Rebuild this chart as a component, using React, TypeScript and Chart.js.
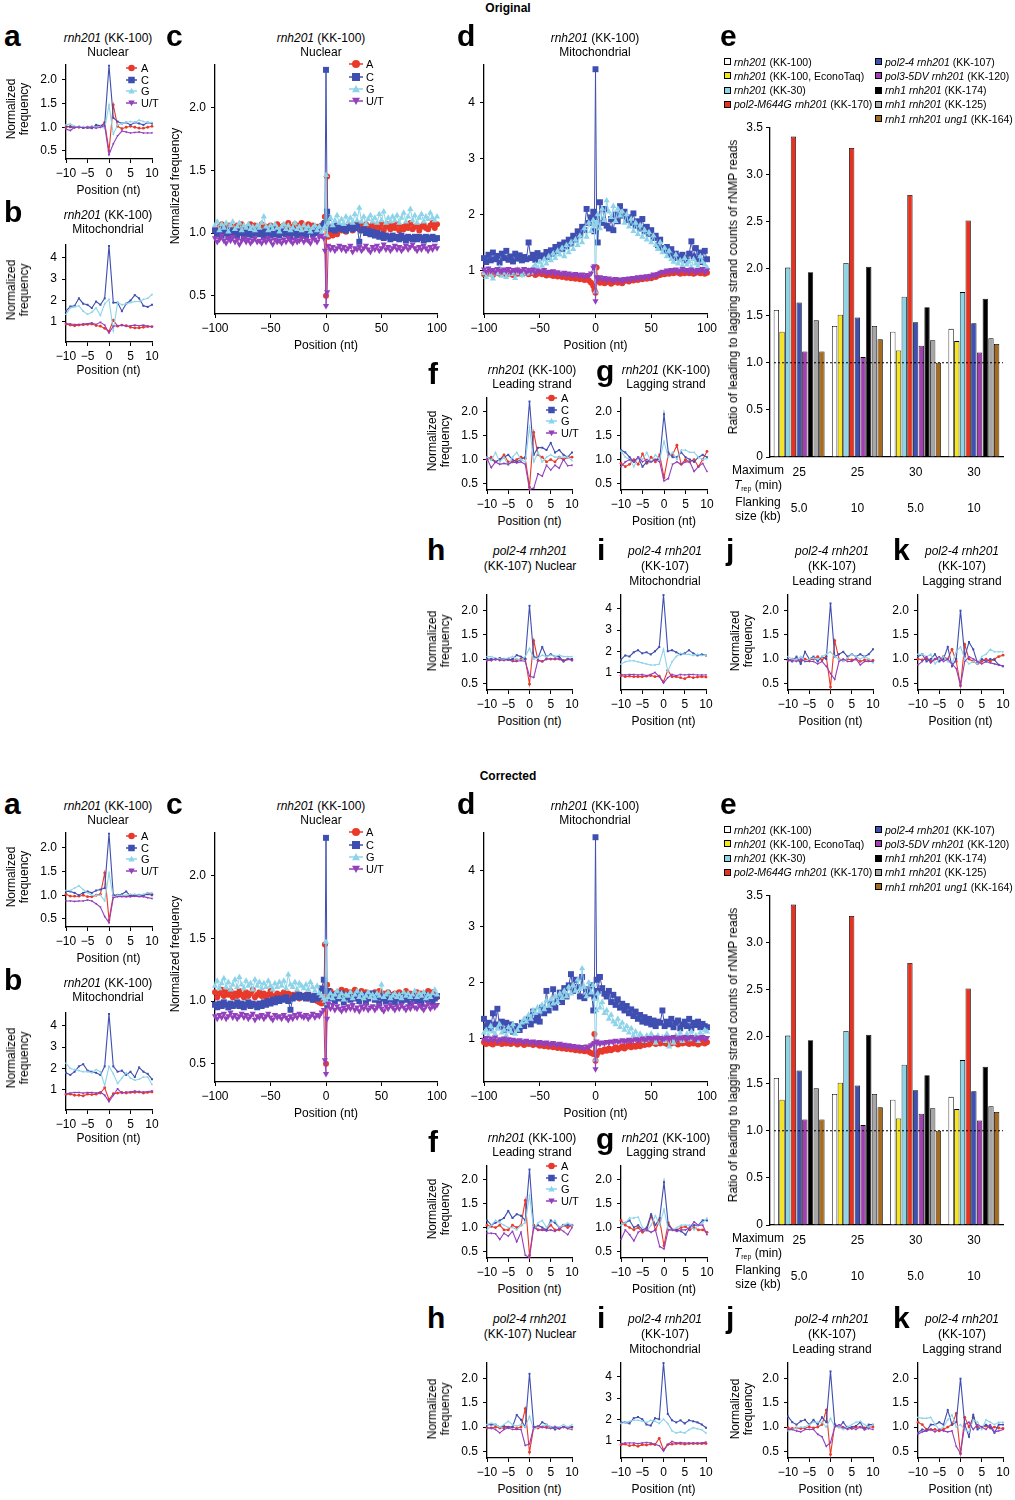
import React, { useEffect, useRef } from "react";
import { Chart, registerables } from "chart.js";

Chart.register(...registerables);

const FONT = '"Liberation Sans", Arial, Helvetica, sans-serif';

// ---------------- positions & ticks ----------------
const POS_NARROW = [-10, -9, -8, -7, -6, -5, -4, -3, -2, -1, 0, 1, 2, 3, 4, 5, 6, 7, 8, 9, 10];
const POS_WIDE = [
  -100, -98, -96, -94, -92, -90, -88, -86, -84, -82,
  -80, -78, -76, -74, -72, -70, -68, -66, -64, -62,
  -60, -58, -56, -54, -52, -50, -48, -46, -44, -42,
  -40, -38, -36, -34, -32, -30, -28, -26, -24, -22,
  -20, -18, -16, -14, -12, -10, -8, -6, -4, -2,
  -1, 0, 1,
  2, 4, 6, 8, 10, 12, 14, 16, 18, 20,
  22, 24, 26, 28, 30, 32, 34, 36, 38, 40,
  42, 44, 46, 48, 50, 52, 54, 56, 58, 60,
  62, 64, 66, 68, 70, 72, 74, 76, 78, 80,
  82, 84, 86, 88, 90, 92, 94, 96, 98, 100,
];
const X_TICKS_NARROW = [-10, -5, 0, 5, 10];
const X_TICKS_WIDE = [-100, -50, 0, 50, 100];
const Y_TICKS_NUC = [0.5, 1, 1.5, 2];
const Y_LABELS_NUC = ["0.5", "1.0", "1.5", "2.0"];
const Y_TICKS_MITO = [1, 2, 3, 4];
const Y_LABELS_MITO = ["1", "2", "3", "4"];
const Y_TICKS_RATIO = [0, 0.5, 1, 1.5, 2, 2.5, 3, 3.5];
const Y_LABELS_RATIO = ["0", "0.5", "1.0", "1.5", "2.0", "2.5", "3.0", "3.5"];
const RATIO_REFERENCE = 1.0;

// ---------------- ORIGINAL ----------------
const O_a_A = [1.00, 1.02, 1.00, 1.00, 0.99, 1.00, 1.00, 1.01, 1.02, 1.10, 0.50, 1.47, 1.02, 0.97, 1.00, 1.02, 1.00, 0.98, 0.98, 1.00, 1.02];
const O_a_C = [1.03, 1.00, 1.00, 1.01, 0.99, 0.99, 0.98, 1.05, 1.03, 1.06, 2.30, 1.20, 1.12, 1.08, 1.10, 1.05, 1.10, 1.08, 1.05, 1.10, 1.08];
const O_a_G = [1.05, 1.07, 1.02, 1.00, 1.01, 1.00, 1.03, 1.00, 1.02, 0.98, 1.47, 0.85, 1.05, 1.08, 1.10, 1.12, 1.10, 1.15, 1.12, 1.10, 1.10];
const O_a_T = [0.96, 0.93, 1.00, 1.00, 0.99, 1.00, 1.00, 0.98, 1.00, 1.03, 0.42, 0.65, 0.82, 0.92, 0.90, 0.88, 0.89, 0.90, 0.88, 0.88, 0.88];

const O_b_A = [0.90, 0.85, 0.82, 0.85, 0.87, 0.88, 0.90, 0.83, 0.80, 0.70, 0.55, 1.08, 0.80, 0.85, 0.82, 0.75, 0.72, 0.72, 0.75, 0.78, 0.78];
const O_b_C = [1.50, 1.72, 1.75, 2.10, 1.85, 1.80, 1.65, 1.95, 1.80, 2.10, 4.55, 1.90, 1.90, 1.50, 1.85, 2.00, 2.25, 2.10, 1.75, 1.70, 1.80];
const O_b_G = [1.35, 1.65, 1.70, 1.75, 1.50, 1.35, 1.45, 1.65, 1.30, 1.85, 2.05, 0.60, 1.90, 1.80, 1.85, 1.90, 1.95, 1.95, 2.05, 2.10, 2.28];
const O_b_T = [0.92, 0.90, 0.88, 0.88, 0.90, 0.92, 0.95, 0.88, 0.98, 0.85, 0.48, 0.80, 0.82, 0.85, 0.80, 0.82, 0.85, 0.82, 0.85, 0.80, 0.78];

const O_c_A = [
  1.03, 0.99, 1.05, 1.07, 1.02, 1.04, 1.06, 1.01, 1.05, 1.03,
  1.06, 1.02, 1.07, 1.04, 1.00, 1.05, 1.07, 1.03, 1.06, 1.02,
  1.04, 1.07, 1.01, 1.05, 1.03, 1.06, 1.04, 1.02, 1.07, 1.05,
  1.03, 1.06, 1.04, 1.08, 1.02, 1.05, 1.07, 1.04, 1.06, 1.08,
  1.05, 1.03, 1.07, 1.04, 1.06, 1.02, 1.05, 1.03, 1.06, 1.04,
  1.13, 0.50, 1.45,
  0.97, 1.00, 0.98, 1.01, 0.99, 1.03, 1.02, 1.05, 1.01, 1.04,
  1.06, 1.02, 1.05, 1.08, 1.03, 1.06, 1.04, 1.07, 1.02, 1.05,
  1.07, 1.03, 1.06, 1.04, 1.08, 1.02, 1.05, 1.07, 1.03, 1.06,
  1.04, 1.07, 1.02, 1.05, 1.03, 1.06, 1.04, 1.08, 1.03, 1.05,
  1.06, 1.02, 1.05, 1.07, 1.04, 1.03, 1.06, 1.08, 1.04, 1.07,
];
const O_c_C = [
  1.02, 0.99, 1.01, 0.98, 1.03, 1.00, 0.97, 1.02, 0.99, 1.01,
  0.98, 1.02, 1.00, 0.97, 1.01, 0.99, 1.03, 0.98, 1.00, 1.02,
  0.99, 1.01, 0.97, 1.02, 1.00, 0.98, 1.03, 0.99, 1.01, 0.98,
  1.00, 1.02, 0.99, 1.01, 0.97, 1.00, 1.02, 0.98, 1.01, 0.99,
  1.00, 0.98, 1.02, 1.01, 0.99, 1.03, 1.00, 1.02, 1.05, 1.07,
  1.08, 2.30, 1.17,
  1.12, 1.03, 1.05, 1.02, 1.06, 1.04, 1.03, 1.05, 1.02, 1.04,
  1.05, 1.03, 1.04, 1.06, 0.93, 1.02, 1.03, 1.00, 1.02, 0.99,
  1.01, 0.98, 1.00, 0.97, 0.99, 0.96, 0.98, 0.97, 0.95, 0.98,
  0.96, 0.97, 0.95, 0.98, 0.96, 0.94, 0.97, 0.96, 0.95, 0.97,
  0.95, 0.97, 0.96, 0.94, 0.97, 0.95, 0.96, 0.97, 0.95, 0.96,
];
const O_c_G = [
  1.06, 1.09, 1.02, 1.07, 1.04, 1.08, 1.01, 1.06, 1.09, 1.03,
  1.05, 1.08, 1.02, 1.06, 1.04, 1.07, 1.03, 1.05, 1.02, 1.06,
  1.04, 1.08, 1.13, 1.05, 1.02, 1.06, 1.03, 1.07, 1.04, 1.01,
  1.05, 1.07, 1.03, 1.06, 1.02, 1.04, 1.08, 1.03, 1.05, 1.02,
  1.06, 1.03, 1.05, 1.01, 1.04, 1.06, 1.02, 1.05, 1.00, 1.03,
  1.05, 1.46, 0.98,
  1.08, 1.12, 1.06, 1.10, 1.14, 1.08, 1.11, 1.07, 1.13, 1.09,
  1.12, 1.08, 1.15, 1.10, 1.20, 1.09, 1.13, 1.07, 1.11, 1.14,
  1.09, 1.12, 1.08, 1.15, 1.10, 1.17, 1.08, 1.12, 1.09, 1.13,
  1.10, 1.14, 1.08, 1.12, 1.16, 1.09, 1.13, 1.19, 1.10, 1.14,
  1.08, 1.12, 1.15, 1.09, 1.13, 1.11, 1.16, 1.12, 1.10, 1.13,
];
const O_c_T = [
  0.96, 0.93, 0.95, 0.98, 0.94, 0.92, 0.96, 0.94, 0.97, 0.93,
  0.95, 0.91, 0.94, 0.96, 0.93, 0.95, 0.92, 0.94, 0.96, 0.93,
  0.94, 0.92, 0.95, 0.93, 0.96, 0.94, 0.91, 0.95, 0.93, 0.94,
  0.92, 0.95, 0.93, 0.96, 0.94, 0.92, 0.95, 0.93, 0.94, 0.96,
  0.93, 0.95, 0.94, 0.92, 0.96, 0.95, 0.93, 0.97, 0.98, 0.96,
  0.86, 0.42, 0.53,
  0.90, 0.87, 0.89, 0.86, 0.88, 0.90, 0.87, 0.89, 0.86, 0.88,
  0.90, 0.85, 0.88, 0.87, 0.89, 0.86, 0.88, 0.90, 0.87, 0.85,
  0.89, 0.87, 0.90, 0.86, 0.88, 0.91, 0.87, 0.89, 0.86, 0.88,
  0.90, 0.87, 0.89, 0.86, 0.88, 0.90, 0.87, 0.89, 0.91, 0.88,
  0.86, 0.89, 0.87, 0.90, 0.88, 0.86, 0.89, 0.87, 0.90, 0.88,
];

const O_d_A = [
  0.93, 0.96, 0.94, 0.97, 0.92, 0.95, 0.98, 0.94, 0.96, 0.93,
  0.97, 0.94, 0.95, 0.92, 0.96, 0.94, 0.97, 0.93, 0.95, 0.96,
  0.93, 0.95, 0.97, 0.92, 0.94, 0.96, 0.93, 0.95, 0.91, 0.94,
  0.92, 0.90, 0.93, 0.89, 0.91, 0.88, 0.90, 0.87, 0.89, 0.86,
  0.88, 0.85, 0.87, 0.84, 0.86, 0.83, 0.85, 0.82, 0.78, 0.72,
  0.65, 0.60, 1.05,
  0.82, 0.78, 0.80, 0.77, 0.79, 0.81, 0.76, 0.79, 0.82, 0.78,
  0.80, 0.77, 0.81, 0.83, 0.80, 0.84, 0.82, 0.85, 0.83, 0.86,
  0.84, 0.87, 0.85, 0.88, 0.86, 0.90, 0.88, 0.91, 0.92, 0.95,
  0.93, 0.96, 0.94, 0.97, 0.95, 0.98, 0.96, 0.94, 0.97, 0.95,
  0.98, 0.95, 0.97, 0.94, 0.96, 0.99, 0.95, 0.97, 0.94, 0.96,
];
const O_d_C = [
  1.22, 1.15, 1.28, 1.18, 1.32, 1.20, 1.26, 1.14, 1.30, 1.22,
  1.35, 1.19, 1.25, 1.16, 1.30, 1.21, 1.27, 1.18, 1.24, 1.20,
  1.50, 1.22, 1.28, 1.19, 1.31, 1.25, 1.27, 1.22, 1.33, 1.24,
  1.36, 1.30, 1.42, 1.35, 1.46, 1.38, 1.50, 1.43, 1.55, 1.48,
  1.62, 1.55, 1.70, 1.63, 1.78, 1.72, 2.10, 1.85, 1.95, 2.05,
  1.70, 4.60, 1.95,
  1.50, 2.22, 1.85, 2.10, 1.80, 1.75, 1.92, 1.72, 2.00, 1.88,
  2.15, 1.98, 2.05, 1.90, 1.95, 1.85, 2.02, 1.80, 1.88, 1.75,
  1.92, 1.70, 1.78, 1.65, 1.72, 1.58, 1.62, 1.45, 1.55, 1.40,
  1.35, 1.42, 1.28, 1.38, 1.22, 1.30, 1.25, 1.20, 1.28, 1.22,
  1.18, 1.30, 1.52, 1.25, 1.40, 1.20, 1.32, 1.15, 1.35, 1.20,
];
const O_d_G = [
  0.95, 0.88, 1.02, 0.92, 0.85, 0.98, 0.94, 1.05, 0.90, 0.96,
  0.88, 1.00, 0.93, 0.97, 0.86, 1.02, 0.95, 0.91, 0.98, 0.94,
  1.00, 0.96, 1.05, 1.10, 1.02, 1.15, 1.08, 1.20, 1.12, 1.25,
  1.18, 1.30, 1.22, 1.35, 1.28, 1.40, 1.25, 1.45, 1.32, 1.50,
  1.38, 1.55, 1.45, 1.62, 1.50, 1.75, 1.60, 1.85, 1.70, 1.90,
  1.80, 0.62, 1.85,
  2.00, 1.75, 2.10, 1.90, 2.25, 2.05, 1.95, 2.15, 1.88, 2.10,
  1.98, 2.05, 1.85, 2.00, 1.78, 1.92, 1.70, 1.85, 1.65, 1.80,
  1.60, 1.72, 1.55, 1.68, 1.50, 1.62, 1.45, 1.38, 1.50, 1.32,
  1.40, 1.25, 1.35, 1.20, 1.15, 1.28, 1.12, 1.18, 1.08, 1.22,
  1.10, 1.16, 1.05, 1.20, 1.12, 1.08, 1.25, 1.15, 1.10, 1.05,
];
const O_d_T = [
  1.02, 0.98, 1.04, 0.99, 1.01, 0.97, 1.03, 1.00, 0.98, 1.02,
  0.99, 1.03, 0.97, 1.01, 0.99, 1.02, 0.98, 1.00, 1.03, 0.97,
  1.01, 0.98, 1.02, 0.96, 1.00, 0.99, 0.97, 1.01, 0.95, 0.98,
  0.96, 0.99, 0.94, 0.97, 0.95, 0.93, 0.96, 0.92, 0.95, 0.93,
  0.91, 0.94, 0.92, 0.90, 0.93, 0.89, 0.92, 0.90, 0.95, 1.05,
  1.08, 0.45, 0.88,
  0.85, 0.88, 0.84, 0.87, 0.83, 0.86, 0.84, 0.82, 0.85, 0.83,
  0.84, 0.81, 0.85, 0.83, 0.86, 0.84, 0.87, 0.85, 0.88, 0.86,
  0.89, 0.87, 0.90, 0.88, 0.91, 0.93, 0.90, 0.94, 0.96, 0.98,
  0.97, 1.00, 0.98, 1.01, 0.99, 1.02, 0.98, 1.00, 1.03, 0.99,
  1.01, 0.98, 1.02, 1.00, 0.97, 1.01, 0.99, 1.03, 0.98, 1.00,
];

const O_f_A = [1.00, 1.05, 0.95, 1.00, 1.10, 0.95, 0.95, 1.00, 1.05, 1.02, 0.42, 1.57, 1.10, 1.05, 0.95, 1.00, 0.95, 1.05, 1.00, 1.05, 1.05];
const O_f_C = [1.05, 1.00, 0.95, 1.00, 1.05, 1.10, 1.00, 0.95, 1.00, 1.05, 2.22, 1.10, 1.25, 1.25, 1.20, 1.35, 1.15, 1.20, 1.10, 1.05, 1.15];
const O_f_G = [1.05, 0.98, 1.15, 0.95, 1.05, 0.88, 1.05, 1.15, 1.00, 0.95, 1.68, 0.95, 1.15, 0.95, 1.05, 1.10, 1.05, 1.05, 1.05, 1.05, 0.98];
const O_f_T = [1.02, 0.83, 0.95, 0.90, 0.92, 0.90, 0.95, 0.93, 0.95, 0.90, 0.37, 0.40, 0.70, 0.65, 0.88, 0.78, 0.88, 0.82, 1.00, 0.87, 0.88];

const O_g_A = [0.92, 0.85, 0.90, 1.00, 0.90, 1.12, 0.92, 1.05, 0.95, 1.10, 0.62, 1.10, 1.10, 1.30, 0.90, 1.00, 0.95, 1.00, 0.85, 1.00, 1.17];
const O_g_C = [1.20, 1.15, 1.05, 0.95, 1.05, 0.85, 0.95, 0.95, 1.00, 1.00, 1.95, 1.15, 1.05, 1.05, 1.15, 1.05, 1.00, 0.95, 1.05, 1.10, 1.05];
const O_g_G = [1.18, 1.05, 1.00, 0.85, 1.05, 1.00, 1.15, 0.95, 1.10, 1.00, 1.38, 1.05, 1.15, 1.00, 1.20, 1.20, 1.15, 1.15, 1.05, 1.00, 1.02];
const O_g_T = [0.85, 0.95, 1.00, 0.95, 1.05, 0.95, 1.00, 0.95, 1.00, 0.95, 0.55, 0.60, 0.90, 0.95, 0.90, 0.95, 0.95, 0.75, 0.85, 0.92, 0.75];

const O_h_A = [0.98, 0.98, 1.00, 0.98, 1.00, 1.00, 0.98, 0.98, 1.00, 1.00, 0.48, 1.38, 0.97, 0.95, 1.00, 1.00, 1.00, 1.00, 0.97, 1.00, 0.98];
const O_h_C = [1.00, 1.00, 0.99, 1.02, 1.00, 0.98, 1.00, 1.08, 1.05, 1.00, 2.10, 1.05, 1.02, 1.25, 1.05, 1.10, 1.05, 1.05, 0.95, 1.00, 1.00];
const O_h_G = [1.05, 1.05, 1.02, 1.00, 1.00, 1.02, 1.05, 1.00, 0.98, 1.05, 1.22, 1.00, 1.02, 1.08, 1.05, 1.08, 1.05, 1.08, 1.05, 1.05, 1.05];
const O_h_T = [0.97, 0.97, 1.00, 0.98, 0.97, 0.99, 0.95, 0.95, 0.97, 0.95, 0.65, 0.62, 0.98, 0.95, 1.00, 1.00, 1.00, 1.00, 0.95, 1.00, 0.97];

const O_i_A = [0.85, 0.80, 0.82, 0.80, 0.80, 0.80, 0.82, 0.85, 0.80, 0.82, 0.55, 1.10, 0.80, 0.80, 0.75, 0.70, 0.80, 0.75, 0.78, 0.80, 0.78];
const O_i_C = [1.60, 1.80, 1.75, 1.95, 2.05, 1.90, 1.95, 1.85, 2.00, 2.20, 4.65, 2.00, 2.05, 1.95, 1.85, 1.90, 2.05, 1.90, 1.80, 1.85, 1.80];
const O_i_G = [1.40, 1.50, 1.55, 1.55, 1.50, 1.45, 1.40, 1.35, 1.35, 1.40, 2.10, 1.05, 1.50, 1.75, 1.90, 1.85, 1.85, 1.80, 1.85, 1.80, 1.80];
const O_i_T = [0.90, 0.88, 0.90, 0.90, 0.88, 0.90, 0.85, 0.90, 1.00, 0.80, 0.50, 0.75, 0.90, 0.85, 0.90, 0.88, 0.90, 0.90, 0.88, 0.88, 0.88];

const O_j_A = [0.97, 1.00, 0.98, 0.95, 1.00, 0.98, 1.00, 1.05, 0.98, 1.05, 0.42, 1.38, 1.00, 0.97, 1.00, 0.98, 1.00, 0.95, 0.98, 0.98, 0.97];
const O_j_C = [1.00, 0.95, 1.05, 0.90, 1.15, 1.00, 1.05, 0.95, 1.05, 1.00, 2.15, 1.05, 1.10, 1.15, 1.05, 1.10, 1.05, 1.10, 1.05, 1.10, 1.20];
const O_j_G = [1.05, 1.00, 0.98, 1.05, 0.95, 1.00, 1.02, 1.00, 1.05, 1.10, 1.15, 1.05, 1.00, 0.95, 1.02, 1.10, 1.05, 1.00, 1.05, 1.00, 0.92];
const O_j_T = [0.96, 0.97, 0.95, 1.00, 0.95, 0.95, 0.95, 0.90, 0.95, 0.85, 0.70, 0.58, 0.95, 1.00, 0.95, 0.95, 1.00, 0.88, 0.95, 0.95, 0.95];

const O_k_A = [1.00, 0.98, 1.00, 0.95, 1.00, 0.98, 1.05, 1.00, 1.20, 0.95, 0.45, 1.30, 1.00, 0.95, 0.90, 0.95, 1.00, 0.95, 1.00, 1.05, 1.08];
const O_k_C = [1.05, 1.10, 0.95, 1.00, 1.10, 0.95, 1.00, 1.25, 0.85, 1.00, 2.00, 1.05, 1.35, 1.20, 0.92, 1.00, 0.95, 1.00, 0.98, 0.88, 0.85];
const O_k_G = [1.10, 1.10, 1.05, 1.10, 0.90, 1.00, 1.05, 0.95, 0.90, 1.15, 1.25, 1.00, 0.90, 0.95, 0.90, 1.05, 1.10, 1.20, 1.15, 1.15, 1.15];
const O_k_T = [0.88, 0.95, 1.05, 0.92, 1.00, 1.05, 0.95, 1.00, 0.90, 0.80, 0.45, 0.95, 1.05, 1.00, 0.95, 0.90, 0.95, 0.92, 0.90, 0.88, 0.85];

// ---------------- CORRECTED ----------------
const C_a_A = [1.02, 0.98, 0.98, 0.98, 1.00, 0.97, 0.97, 1.00, 1.02, 1.47, 0.48, 1.00, 1.00, 1.00, 0.98, 1.00, 1.00, 1.00, 1.00, 1.04, 1.02];
const C_a_C = [1.08, 1.08, 1.05, 1.00, 1.05, 1.08, 1.05, 1.10, 1.12, 1.15, 2.30, 1.00, 1.00, 1.02, 1.08, 0.98, 1.00, 1.00, 1.00, 1.02, 1.00];
const C_a_G = [1.10, 1.10, 1.15, 1.20, 1.12, 1.05, 1.00, 1.00, 1.00, 0.88, 1.47, 0.95, 1.00, 1.00, 1.00, 1.02, 1.02, 1.00, 1.02, 1.05, 1.05];
const C_a_T = [0.88, 0.88, 0.87, 0.88, 0.88, 0.90, 0.88, 0.82, 0.75, 0.55, 0.42, 0.95, 0.97, 0.97, 0.97, 0.97, 0.98, 0.97, 0.97, 0.95, 0.93];

const C_b_A = [0.80, 0.80, 0.75, 0.75, 0.72, 0.80, 0.78, 0.80, 0.85, 1.10, 0.55, 0.82, 0.85, 0.88, 0.85, 0.88, 0.88, 0.90, 0.85, 0.88, 0.90];
const C_b_C = [1.80, 1.70, 1.85, 2.10, 2.20, 1.90, 1.85, 1.80, 1.70, 2.10, 4.55, 2.10, 1.85, 1.90, 1.70, 1.85, 1.60, 2.05, 1.85, 1.75, 1.50];
const C_b_G = [2.25, 2.00, 1.95, 1.90, 1.85, 1.85, 1.80, 1.95, 1.85, 1.20, 2.10, 1.75, 1.30, 1.55, 1.80, 1.55, 1.45, 1.50, 1.60, 1.60, 1.25];
const C_b_T = [0.82, 0.85, 0.88, 0.88, 0.85, 0.88, 0.88, 0.85, 0.90, 0.75, 0.45, 0.75, 1.05, 0.85, 0.90, 0.90, 0.95, 0.90, 0.90, 0.92, 0.95];

const C_c_A = [
  1.07, 1.03, 1.06, 1.09, 1.04, 1.07, 1.05, 1.08, 1.03, 1.06,
  1.04, 1.08, 1.05, 1.03, 1.07, 1.04, 1.06, 1.09, 1.03, 1.05,
  1.07, 1.04, 1.06, 1.03, 1.05, 1.08, 1.04, 1.02, 1.06, 1.03,
  1.05, 1.07, 1.03, 1.06, 1.04, 1.05, 1.03, 1.06, 1.02, 1.04,
  1.03, 1.05, 1.02, 1.04, 1.01, 1.03, 1.00, 0.99, 0.98, 1.02,
  1.45, 0.50, 1.13,
  1.05, 1.08, 1.04, 1.06, 1.03, 1.07, 1.09, 1.05, 1.08, 1.04,
  1.07, 1.05, 1.09, 1.04, 1.06, 1.08, 1.03, 1.07, 1.05, 1.06,
  1.04, 1.07, 1.05, 1.08, 1.03, 1.06, 1.04, 1.07, 1.05, 1.03,
  1.06, 1.04, 1.07, 1.03, 1.05, 1.08, 1.04, 1.06, 1.03, 1.05,
  1.07, 1.04, 1.06, 1.03, 1.05, 1.08, 1.04, 1.07, 1.05, 1.03,
];
const C_c_C = [
  0.97, 0.95, 0.98, 0.96, 0.99, 0.97, 0.95, 0.98, 0.96, 0.97,
  0.99, 0.96, 0.98, 0.95, 0.97, 0.99, 0.96, 0.98, 0.97, 0.95,
  0.98, 0.96, 0.99, 0.97, 1.00, 0.98, 1.01, 0.99, 1.02, 1.00,
  1.02, 1.01, 1.03, 1.00, 0.93, 1.02, 1.04, 1.03, 1.05, 1.03,
  1.04, 1.02, 1.05, 1.03, 1.01, 1.04, 1.02, 1.03, 1.10, 1.17,
  1.08, 2.30, 0.97,
  1.08, 1.02, 1.05, 1.00, 1.04, 1.02, 1.06, 0.99, 1.03, 1.05,
  1.01, 1.04, 1.02, 1.06, 1.00, 1.03, 1.05, 0.99, 1.02, 1.04,
  1.06, 1.01, 1.03, 0.98, 1.04, 1.02, 1.00, 1.05, 1.01, 1.03,
  0.99, 1.04, 1.02, 1.00, 1.05, 1.01, 1.03, 0.98, 1.04, 1.02,
  1.00, 1.03, 0.98, 1.02, 1.05, 1.01, 1.04, 0.99, 1.02, 1.04,
];
const C_c_G = [
  1.12, 1.16, 1.10, 1.14, 1.18, 1.11, 1.15, 1.09, 1.13, 1.17,
  1.11, 1.19, 1.13, 1.10, 1.16, 1.12, 1.14, 1.09, 1.17, 1.12,
  1.15, 1.10, 1.14, 1.11, 1.16, 1.12, 1.09, 1.14, 1.11, 1.15,
  1.12, 1.16, 1.10, 1.21, 1.13, 1.11, 1.15, 1.09, 1.14, 1.12,
  1.10, 1.13, 1.09, 1.15, 1.11, 1.08, 1.12, 1.06, 1.04, 1.02,
  1.00, 1.47, 0.98,
  1.03, 1.06, 1.02, 1.05, 1.08, 1.03, 1.06, 1.01, 1.05, 1.04,
  1.07, 1.02, 1.05, 1.08, 1.03, 1.06, 1.02, 1.04, 1.07, 1.03,
  1.05, 1.02, 1.06, 1.04, 1.13, 1.03, 1.05, 1.07, 1.02, 1.04,
  1.06, 1.03, 1.05, 1.02, 1.07, 1.04, 1.06, 1.03, 1.05, 1.08,
  1.03, 1.06, 1.04, 1.07, 1.02, 1.05, 1.03, 1.06, 1.09, 1.05,
];
const C_c_T = [
  0.88, 0.86, 0.89, 0.87, 0.90, 0.86, 0.88, 0.91, 0.87, 0.89,
  0.86, 0.88, 0.90, 0.87, 0.89, 0.86, 0.88, 0.90, 0.85, 0.88,
  0.87, 0.89, 0.86, 0.88, 0.90, 0.87, 0.85, 0.89, 0.87, 0.88,
  0.86, 0.89, 0.87, 0.85, 0.88, 0.86, 0.89, 0.87, 0.90, 0.88,
  0.87, 0.89, 0.86, 0.88, 0.90, 0.87, 0.89, 0.88, 0.91, 0.93,
  0.53, 0.42, 0.86,
  0.98, 0.94, 0.97, 0.93, 0.96, 0.94, 0.92, 0.95, 0.93, 0.96,
  0.94, 0.97, 0.93, 0.95, 0.92, 0.96, 0.94, 0.97, 0.93, 0.95,
  0.96, 0.93, 0.95, 0.97, 0.94, 0.92, 0.96, 0.94, 0.97, 0.95,
  0.93, 0.96, 0.94, 0.97, 0.95, 0.93, 0.96, 0.94, 0.98, 0.95,
  0.94, 0.97, 0.95, 0.93, 0.96, 0.98, 0.94, 0.96, 0.95, 0.97,
];

const C_d_A = [
  0.93, 0.90, 0.94, 0.91, 0.89, 0.93, 0.92, 0.95, 0.90, 0.93,
  0.91, 0.94, 0.90, 0.93, 0.92, 0.89, 0.93, 0.91, 0.88, 0.92,
  0.90, 0.92, 0.88, 0.91, 0.89, 0.87, 0.90, 0.86, 0.88, 0.85,
  0.87, 0.84, 0.86, 0.83, 0.85, 0.82, 0.84, 0.81, 0.83, 0.80,
  0.82, 0.79, 0.81, 0.78, 0.80, 0.77, 0.79, 0.76, 0.74, 0.72,
  1.08, 0.60, 0.70,
  0.75, 0.78, 0.76, 0.80, 0.78, 0.82, 0.79, 0.81, 0.84, 0.80,
  0.83, 0.86, 0.82, 0.85, 0.88, 0.84, 0.87, 0.85, 0.89, 0.86,
  0.90, 0.88, 0.91, 0.89, 0.92, 0.95, 0.90, 0.93, 0.91, 0.94,
  0.92, 0.90, 0.93, 0.91, 0.94, 0.92, 0.89, 0.93, 0.91, 0.94,
  0.92, 0.90, 0.94, 0.91, 0.93, 0.89, 0.92, 0.95, 0.91, 0.93,
];
const C_d_C = [
  1.35, 1.22, 1.28, 1.18, 1.45, 1.25, 1.53, 1.20, 1.30, 1.15,
  1.28, 1.18, 1.25, 1.12, 1.22, 1.20, 1.15, 1.28, 1.22, 1.30,
  1.35, 1.25, 1.48, 1.32, 1.40, 1.30, 1.55, 1.45, 1.85, 1.50,
  1.62, 1.88, 1.55, 1.70, 1.82, 1.65, 1.90, 1.75, 1.95, 2.15,
  1.85, 2.05, 1.92, 1.75, 2.10, 1.72, 1.88, 1.80, 1.95, 1.50,
  1.75, 4.60, 2.05,
  1.85, 2.10, 1.90, 1.80, 1.75, 1.85, 1.65, 1.78, 1.60, 1.70,
  1.55, 1.62, 1.50, 1.58, 1.45, 1.52, 1.40, 1.48, 1.35, 1.42,
  1.30, 1.38, 1.28, 1.35, 1.25, 1.32, 1.22, 1.30, 1.28, 1.50,
  1.22, 1.30, 1.25, 1.35, 1.20, 1.28, 1.32, 1.18, 1.25, 1.30,
  1.22, 1.35, 1.18, 1.28, 1.24, 1.30, 1.20, 1.26, 1.22, 1.20,
];
const C_d_G = [
  1.10, 1.15, 1.05, 1.22, 1.12, 1.08, 1.18, 1.25, 1.10, 1.15,
  1.05, 1.20, 1.12, 1.25, 1.08, 1.15, 1.22, 1.28, 1.35, 1.30,
  1.42, 1.35, 1.50, 1.45, 1.55, 1.48, 1.60, 1.52, 1.68, 1.58,
  1.70, 1.62, 1.75, 1.65, 1.80, 1.72, 1.85, 1.75, 1.92, 1.80,
  1.95, 1.85, 2.05, 1.88, 2.25, 1.92, 1.75, 2.00, 1.82, 1.95,
  1.70, 0.62, 1.50,
  1.80, 1.55, 1.65, 1.45, 1.50, 1.35, 1.42, 1.30, 1.25, 1.35,
  1.20, 1.28, 1.15, 1.22, 1.10, 1.18, 1.05, 1.12, 1.00, 1.08,
  1.02, 0.95, 1.05, 0.98, 1.08, 1.00, 0.92, 1.05, 0.98, 1.02,
  0.95, 1.08, 0.85, 1.00, 0.92, 1.05, 0.98, 1.10, 0.95, 1.02,
  1.08, 0.98, 1.12, 1.00, 1.05, 0.95, 1.10, 1.02, 1.15, 1.12,
];
const C_d_T = [
  0.98, 1.01, 0.96, 1.00, 0.97, 1.02, 0.95, 0.99, 0.97, 1.00,
  0.96, 0.99, 0.95, 0.98, 0.96, 0.94, 0.97, 0.95, 0.93, 0.96,
  0.94, 0.92, 0.95, 0.93, 0.91, 0.94, 0.92, 0.90, 0.93, 0.91,
  0.89, 0.92, 0.90, 0.88, 0.91, 0.87, 0.89, 0.86, 0.88, 0.85,
  0.87, 0.84, 0.86, 0.83, 0.85, 0.82, 0.86, 0.84, 0.88, 0.90,
  0.92, 0.45, 0.95,
  0.92, 0.90, 0.93, 0.91, 0.94, 0.92, 0.95, 0.93, 0.96, 0.94,
  0.95, 0.97, 0.94, 0.96, 0.98, 0.95, 0.97, 0.99, 0.96, 0.98,
  1.00, 0.97, 0.99, 1.01, 0.98, 1.00, 1.02, 0.99, 1.01, 0.98,
  1.00, 1.02, 0.99, 1.01, 1.03, 1.00, 0.98, 1.02, 1.00, 1.03,
  0.99, 1.01, 1.03, 1.00, 0.98, 1.02, 1.00, 1.03, 0.99, 1.01,
];

const C_f_A = [1.05, 1.02, 1.00, 1.05, 0.95, 0.95, 1.05, 1.00, 1.05, 1.57, 0.42, 1.05, 0.95, 0.95, 0.95, 1.05, 0.95, 0.95, 1.05, 1.00, 1.05];
const C_f_C = [1.15, 1.05, 1.10, 1.15, 1.20, 1.35, 1.20, 1.28, 1.25, 1.15, 2.22, 1.00, 1.05, 1.00, 0.95, 1.15, 1.10, 1.00, 1.05, 1.05, 1.05];
const C_f_G = [0.95, 1.05, 1.15, 1.10, 1.05, 1.00, 1.00, 0.95, 1.05, 1.10, 1.68, 0.95, 1.10, 1.15, 1.00, 1.10, 1.15, 1.00, 1.05, 1.10, 1.05];
const C_f_T = [0.88, 0.88, 0.87, 0.75, 0.88, 0.82, 0.92, 0.70, 0.90, 0.42, 0.37, 1.00, 0.95, 0.95, 0.93, 0.95, 0.92, 0.98, 0.92, 0.85, 1.00];

const C_g_A = [1.15, 1.05, 1.00, 0.95, 1.00, 0.90, 0.95, 1.25, 0.95, 1.15, 0.62, 1.10, 0.95, 0.95, 1.00, 1.02, 0.95, 1.00, 0.95, 0.95, 0.90];
const C_g_C = [1.05, 1.10, 1.15, 1.00, 1.05, 0.95, 1.00, 1.28, 1.05, 1.20, 1.95, 1.05, 0.95, 0.95, 0.92, 0.85, 1.00, 1.05, 1.05, 1.15, 1.15];
const C_g_G = [1.05, 1.10, 1.20, 1.20, 1.22, 1.00, 0.92, 1.05, 1.25, 1.05, 1.38, 0.95, 0.95, 1.00, 1.05, 1.05, 1.05, 0.95, 1.05, 1.10, 1.20];
const C_g_T = [0.75, 0.95, 0.85, 0.72, 0.90, 0.95, 0.95, 0.90, 0.95, 0.60, 0.55, 0.95, 0.95, 0.92, 0.95, 0.95, 1.00, 1.12, 1.05, 1.05, 0.85];

const C_h_A = [0.98, 0.98, 1.00, 0.98, 0.98, 1.00, 1.00, 0.97, 1.00, 1.38, 0.48, 1.00, 0.98, 1.00, 1.00, 1.00, 1.00, 0.97, 1.00, 0.98, 1.00];
const C_h_C = [1.05, 1.05, 1.05, 1.00, 1.02, 1.00, 1.00, 1.25, 1.15, 1.00, 2.10, 1.00, 1.00, 1.10, 1.05, 1.00, 0.95, 0.98, 1.00, 1.00, 1.00];
const C_h_G = [1.05, 1.08, 1.05, 1.00, 1.05, 1.12, 1.05, 1.02, 1.05, 1.00, 1.22, 0.95, 1.00, 1.02, 1.05, 1.00, 1.02, 1.00, 1.05, 1.00, 1.05];
const C_h_T = [0.98, 0.98, 0.95, 0.88, 0.95, 0.98, 0.95, 0.95, 0.95, 0.62, 0.65, 1.00, 1.02, 1.00, 0.98, 0.97, 1.00, 0.97, 1.00, 0.97, 0.95];

const C_i_A = [0.80, 0.82, 0.75, 0.78, 0.72, 0.80, 0.78, 0.82, 0.80, 1.10, 0.55, 0.80, 0.82, 0.85, 0.85, 0.82, 0.85, 0.85, 0.85, 0.85, 0.85];
const C_i_C = [1.85, 1.85, 1.80, 2.05, 2.10, 2.00, 1.75, 1.70, 2.05, 2.00, 4.65, 2.25, 1.95, 1.85, 1.95, 1.80, 1.95, 1.90, 1.85, 1.75, 1.60];
const C_i_G = [1.80, 1.85, 1.90, 1.95, 1.95, 1.90, 1.85, 1.95, 1.90, 1.80, 2.00, 1.80, 1.45, 1.35, 1.40, 1.35, 1.50, 1.60, 1.55, 1.50, 1.35];
const C_i_T = [0.85, 0.88, 0.88, 0.88, 0.85, 0.88, 0.90, 0.88, 0.82, 0.75, 0.50, 0.80, 0.95, 0.88, 0.90, 0.88, 0.88, 0.88, 0.88, 0.88, 0.92];

const C_j_A = [0.98, 0.97, 0.98, 0.97, 0.98, 1.00, 0.98, 1.00, 1.05, 1.35, 0.43, 1.05, 1.00, 0.98, 1.00, 0.97, 1.00, 1.00, 0.98, 1.00, 1.00];
const C_j_C = [1.22, 1.10, 1.05, 1.12, 1.15, 1.05, 1.15, 1.05, 1.20, 1.10, 2.15, 1.05, 1.00, 1.10, 0.98, 1.00, 1.02, 1.10, 0.95, 1.05, 1.05];
const C_j_G = [0.92, 0.95, 0.98, 1.00, 1.00, 1.05, 1.10, 1.10, 1.10, 1.00, 1.18, 1.00, 1.00, 0.95, 1.00, 1.05, 1.10, 1.12, 1.05, 1.00, 1.05];
const C_j_T = [0.95, 0.95, 0.92, 0.90, 0.95, 0.95, 0.95, 0.85, 0.80, 0.60, 0.68, 1.00, 1.05, 1.00, 0.95, 0.98, 0.95, 1.00, 0.95, 0.97, 0.95];

const C_k_A = [1.10, 1.05, 0.95, 0.95, 0.95, 0.92, 0.95, 1.00, 1.05, 1.28, 0.45, 1.20, 1.00, 1.20, 1.00, 1.00, 1.02, 0.98, 1.00, 0.98, 0.97];
const C_k_C = [0.88, 0.95, 0.92, 1.05, 1.05, 1.10, 1.05, 1.35, 1.05, 1.10, 2.00, 1.05, 0.80, 1.25, 0.95, 1.00, 1.05, 1.00, 0.88, 1.05, 1.05];
const C_k_G = [1.20, 1.18, 1.18, 1.20, 1.05, 0.95, 1.00, 1.15, 1.25, 1.00, 1.05, 0.95, 0.90, 1.15, 1.10, 0.95, 1.15, 1.10, 1.05, 1.10, 1.10];
const C_k_T = [0.85, 0.90, 0.92, 0.95, 0.90, 0.95, 0.92, 0.90, 0.92, 0.60, 0.45, 1.05, 1.10, 0.95, 1.05, 1.00, 0.95, 1.05, 0.90, 0.92, 0.95];

// ---------------- panel e (ratio bars) ----------------
const TREP_LABELS = ["25", "25", "30", "30"];
const FLANK_LABELS = ["5.0", "10", "5.0", "10"];
const bar_KK100 = [1.56, 1.39, 1.33, 1.36];
const bar_KK100_Econo = [1.33, 1.51, 1.13, 1.23];
const bar_KK30 = [2.01, 2.06, 1.70, 1.75];
const bar_KK170 = [3.40, 3.28, 2.78, 2.51];
const bar_KK107 = [1.64, 1.48, 1.43, 1.42];
const bar_KK120 = [1.12, 1.06, 1.18, 1.11];
const bar_KK174 = [1.96, 2.02, 1.59, 1.68];
const bar_KK125 = [1.45, 1.39, 1.24, 1.26];
const bar_KK164 = [1.12, 1.25, 1.00, 1.20];
const BAR_SERIES = [bar_KK100, bar_KK100_Econo, bar_KK30, bar_KK170, bar_KK107, bar_KK120, bar_KK174, bar_KK125, bar_KK164];
const STRAIN_ITALIC = ["rnh201", "rnh201", "rnh201", "pol2-M644G rnh201", "pol2-4 rnh201", "pol3-5DV rnh201", "rnh1 rnh201", "rnh1 rnh201", "rnh1 rnh201 ung1"];
const STRAIN_SUFFIX = [" (KK-100)", " (KK-100, EconoTaq)", " (KK-30)", " (KK-170)", " (KK-107)", " (KK-120)", " (KK-174)", " (KK-125)", " (KK-164)"];
const BAR_COLORS = ["#ffffff", "#f6e41c", "#8cd4e6", "#e6321f", "#3f4fb3", "#a53db6", "#000000", "#a6a6a6", "#a56c1f"];

// ---------------- styling ----------------
type Nuc = { A: number[]; C: number[]; G: number[]; T: number[] };
const NUCS = [
  { key: "A", label: "A", color: "#e8392b", style: "circle", rot: 0, order: 4, bigR: 3 },
  { key: "C", label: "C", color: "#3f4fb1", style: "rect", rot: 0, order: 3, bigR: 4.2 },
  { key: "G", label: "G", color: "#8ed4e9", style: "triangle", rot: 0, order: 2, bigR: 3.6 },
  { key: "T", label: "U/T", color: "#9340bd", style: "triangle", rot: 180, order: 1, bigR: 3.6 },
];

const ORIGINAL: Record<string, Nuc> = {
  a: { A: O_a_A, C: O_a_C, G: O_a_G, T: O_a_T },
  b: { A: O_b_A, C: O_b_C, G: O_b_G, T: O_b_T },
  c: { A: O_c_A, C: O_c_C, G: O_c_G, T: O_c_T },
  d: { A: O_d_A, C: O_d_C, G: O_d_G, T: O_d_T },
  f: { A: O_f_A, C: O_f_C, G: O_f_G, T: O_f_T },
  g: { A: O_g_A, C: O_g_C, G: O_g_G, T: O_g_T },
  h: { A: O_h_A, C: O_h_C, G: O_h_G, T: O_h_T },
  i: { A: O_i_A, C: O_i_C, G: O_i_G, T: O_i_T },
  j: { A: O_j_A, C: O_j_C, G: O_j_G, T: O_j_T },
  k: { A: O_k_A, C: O_k_C, G: O_k_G, T: O_k_T },
};
const CORRECTED: Record<string, Nuc> = {
  a: { A: C_a_A, C: C_a_C, G: C_a_G, T: C_a_T },
  b: { A: C_b_A, C: C_b_C, G: C_b_G, T: C_b_T },
  c: { A: C_c_A, C: C_c_C, G: C_c_G, T: C_c_T },
  d: { A: C_d_A, C: C_d_C, G: C_d_G, T: C_d_T },
  f: { A: C_f_A, C: C_f_C, G: C_f_G, T: C_f_T },
  g: { A: C_g_A, C: C_g_C, G: C_g_G, T: C_g_T },
  h: { A: C_h_A, C: C_h_C, G: C_h_G, T: C_h_T },
  i: { A: C_i_A, C: C_i_C, G: C_i_G, T: C_i_T },
  j: { A: C_j_A, C: C_j_C, G: C_j_G, T: C_j_T },
  k: { A: C_k_A, C: C_k_C, G: C_k_G, T: C_k_T },
};

const RNH = <><i>rnh201</i> (KK-100)</>;
const POL = <i>pol2-4 rnh201</i>;

const LAYOUT: any[] = [
  { id: "a", box: { l: 66, t: 62, r: 151.5, b: 158.5 }, wide: false, mito: false, yr: [0.33, 2.33], letter: [4, 36], title: { x: 108, ys: [38, 52], lines: [RNH, "Nuclear"] }, xt: [108.5, 190], yt: [18, 109, true], legend: { x0: 126, x1: 137, tx: 141, ys: [68, 79.5, 91, 102.5], m: 6.5 } },
  { id: "b", box: { l: 66, t: 242, r: 151.5, b: 342 }, wide: false, mito: true, yr: [0.06, 4.63], letter: [4, 212], title: { x: 108, ys: [215, 229], lines: [RNH, "Mitochondrial"] }, xt: [108.5, 370], yt: [18, 290, true] },
  { id: "c", box: { l: 215, t: 62, r: 437, b: 314 }, wide: true, mito: false, yr: [0.355, 2.345], letter: [166, 36], title: { x: 321, ys: [38, 52], lines: [RNH, "Nuclear"] }, xt: [326, 345], yt: [175, 186, false], legend: { x0: 349, x1: 363, tx: 366, ys: [64, 76.5, 89, 101], m: 8 } },
  { id: "d", box: { l: 484, t: 62, r: 707, b: 314 }, wide: true, mito: true, yr: [0.22, 4.69], letter: [457, 36], title: { x: 595, ys: [38, 52], lines: [RNH, "Mitochondrial"] }, xt: [595.5, 345] },
  { id: "f", box: { l: 487, t: 395, r: 572, b: 490 }, wide: false, mito: false, yr: [0.36, 2.31], letter: [428, 374], title: { x: 532, ys: [370, 384], lines: [RNH, "Leading strand"] }, xt: [529.5, 521], yt: [439, 441, true], legend: { x0: 546, x1: 557, tx: 561, ys: [398, 409.5, 421, 433], m: 6.5 } },
  { id: "g", box: { l: 621, t: 395, r: 707, b: 490 }, wide: false, mito: false, yr: [0.36, 2.31], letter: [596, 371], title: { x: 666, ys: [370, 384], lines: [RNH, "Lagging strand"] }, xt: [664, 521] },
  { id: "h", box: { l: 487, t: 592, r: 572, b: 690 }, wide: false, mito: false, yr: [0.36, 2.34], letter: [427, 550], title: { x: 530, ys: [551, 566], lines: [POL, "(KK-107) Nuclear"] }, xt: [529.5, 721], yt: [438.5, 641, true] },
  { id: "i", box: { l: 621, t: 592, r: 706, b: 690 }, wide: false, mito: true, yr: [0.17, 4.69], letter: [597, 550], title: { x: 665, ys: [551, 566, 581], lines: [POL, "(KK-107)", "Mitochondrial"] }, xt: [663.5, 721] },
  { id: "j", box: { l: 788, t: 592, r: 873, b: 690 }, wide: false, mito: false, yr: [0.36, 2.34], letter: [726, 550], title: { x: 832, ys: [551, 566, 581], lines: [POL, "(KK-107)", "Leading strand"] }, xt: [830.5, 721], yt: [741.5, 641, true] },
  { id: "k", box: { l: 918, t: 592, r: 1003, b: 690 }, wide: false, mito: false, yr: [0.36, 2.34], letter: [893, 550], title: { x: 962, ys: [551, 566, 581], lines: [POL, "(KK-107)", "Lagging strand"] }, xt: [960.5, 721] },
];
const BOX_E = { l: 770, t: 126.7, r: 1003, b: 456.7 };

// ---------------- components ----------------
function Txt({ x, y, children, size = 12, bold = false, anchor = "middle", rotate = false, lh }: any) {
  const tx = anchor === "middle" ? "-50%" : anchor === "end" ? "-100%" : "0";
  return (
    <div
      style={{
        position: "absolute",
        left: x,
        top: y,
        transform: `translate(${tx}, -50%)${rotate ? " rotate(-90deg)" : ""}`,
        fontFamily: FONT,
        fontSize: size,
        fontWeight: bold ? 700 : 400,
        whiteSpace: "nowrap",
        lineHeight: lh ? `${lh}px` : "normal",
        textAlign: "center",
        color: "#000",
      }}
    >
      {children}
    </div>
  );
}

function Profile({ box, dy, x, d, yr, yTicks, yLabels, xTicks, big }: any) {
  const ref = useRef<HTMLCanvasElement>(null);
  const L = 44, T = 10, R = 18, B = 24;
  const w = Math.round(box.r - box.l + L + R);
  const h = Math.round(box.b - box.t + T + B);
  useEffect(() => {
    const tickFont = { family: FONT, size: 12 };
    const datasets = NUCS.map((n) => ({
      label: n.label,
      data: x.map((xv: number, i: number) => ({ x: xv, y: (d as any)[n.key][i] })),
      borderColor: n.color,
      backgroundColor: n.color,
      borderWidth: big ? 1 : 1.1,
      pointStyle: n.style as any,
      pointRotation: n.rot,
      pointRadius: big ? n.bigR : 1.4,
      pointBorderWidth: 0,
      pointHoverRadius: 0,
      order: n.order,
      clip: false as any,
    }));
    const chart = new Chart(ref.current!, {
      type: "line",
      data: { datasets },
      options: {
        animation: false,
        responsive: false,
        devicePixelRatio: 1,
        events: [],
        layout: { padding: { left: 0, top: T, right: R, bottom: 0 } },
        plugins: { legend: { display: false }, tooltip: { enabled: false } },
        scales: {
          x: {
            type: "linear",
            min: xTicks[0],
            max: xTicks[xTicks.length - 1],
            afterFit: (s: any) => { s.height = B; },
            afterBuildTicks: (s: any) => { s.ticks = xTicks.map((v: number) => ({ value: v })); },
            ticks: { font: tickFont, color: "#000", padding: 3, maxRotation: 0, autoSkip: false, callback: (v: any) => String(v).replace("-", "\u2212") },
            grid: { drawOnChartArea: false, drawTicks: true, tickLength: 4, color: "#000", lineWidth: 1 },
            border: { color: "#000", width: 1.3 },
          },
          y: {
            type: "linear",
            min: yr[0],
            max: yr[1],
            afterFit: (s: any) => { s.width = L; },
            afterBuildTicks: (s: any) => { s.ticks = yTicks.map((v: number) => ({ value: v })); },
            ticks: { font: tickFont, color: "#000", padding: 5, autoSkip: false, callback: (_v: any, i: number) => yLabels[i] },
            grid: { drawOnChartArea: false, drawTicks: true, tickLength: 4, color: "#000", lineWidth: 1 },
            border: { color: "#000", width: 1.3 },
          },
        },
      } as any,
    });
    return () => chart.destroy();
  }, []);
  return (
    <canvas
      ref={ref}
      width={w}
      height={h}
      style={{ position: "absolute", left: box.l - L, top: box.t + dy - T, width: w, height: h }}
    />
  );
}

const refLinePlugin = {
  id: "refLine",
  afterDatasetsDraw(chart: any) {
    const { ctx, chartArea, scales } = chart;
    const yy = scales.y.getPixelForValue(RATIO_REFERENCE);
    ctx.save();
    ctx.setLineDash([2, 2]);
    ctx.strokeStyle = "#000";
    ctx.lineWidth = 1.2;
    ctx.beginPath();
    ctx.moveTo(chartArea.left + 4, yy);
    ctx.lineTo(chartArea.right, yy);
    ctx.stroke();
    ctx.restore();
  },
};

function RatioBars({ dy }: { dy: number }) {
  const ref = useRef<HTMLCanvasElement>(null);
  const box = BOX_E;
  const L = 44, T = 10, R = 6, B = 60;
  const w = Math.round(box.r - box.l + L + R);
  const h = Math.round(box.b - box.t + T + B);
  useEffect(() => {
    const chart = new Chart(ref.current!, {
      type: "bar",
      data: {
        labels: TREP_LABELS.map((t, i) => [t, "", FLANK_LABELS[i]]),
        datasets: BAR_SERIES.map((vals, i) => ({
          label: STRAIN_ITALIC[i] + STRAIN_SUFFIX[i],
          data: vals,
          backgroundColor: BAR_COLORS[i],
          borderColor: "#000",
          borderWidth: 0.8,
          barPercentage: 0.93,
          categoryPercentage: 0.88,
        })),
      },
      options: {
        animation: false,
        responsive: false,
        devicePixelRatio: 1,
        events: [],
        layout: { padding: { left: 0, top: T, right: R, bottom: 0 } },
        plugins: { legend: { display: false }, tooltip: { enabled: false } },
        scales: {
          x: {
            afterFit: (s: any) => { s.height = B; },
            ticks: { font: { family: FONT, size: 12, lineHeight: 1.5 }, color: "#000", padding: 7, maxRotation: 0, autoSkip: false },
            grid: { drawOnChartArea: false, drawTicks: false },
            border: { color: "#000", width: 1.3 },
          },
          y: {
            min: 0,
            max: 3.5,
            afterFit: (s: any) => { s.width = L; },
            afterBuildTicks: (s: any) => { s.ticks = Y_TICKS_RATIO.map((v) => ({ value: v })); },
            ticks: { font: { family: FONT, size: 12 }, color: "#000", padding: 3, autoSkip: false, callback: (_v: any, i: number) => Y_LABELS_RATIO[i] },
            grid: { drawOnChartArea: false, drawTicks: true, tickLength: 4, color: "#000", lineWidth: 1 },
            border: { color: "#000", width: 1.3 },
          },
        },
      } as any,
      plugins: [refLinePlugin],
    });
    return () => chart.destroy();
  }, []);
  return (
    <canvas
      ref={ref}
      width={w}
      height={h}
      style={{ position: "absolute", left: box.l - L, top: box.t + dy - T, width: w, height: h }}
    />
  );
}

function MarkerShape({ style, rot, color, cx, cy, s }: any) {
  if (style === "circle") return <circle cx={cx} cy={cy} r={s / 2} fill={color} />;
  if (style === "rect") return <rect x={cx - s / 2} y={cy - s / 2} width={s} height={s} fill={color} />;
  const hs = s / 2;
  const pts = rot === 180
    ? `${cx - hs},${cy - hs * 0.8} ${cx + hs},${cy - hs * 0.8} ${cx},${cy + hs}`
    : `${cx - hs},${cy + hs * 0.8} ${cx + hs},${cy + hs * 0.8} ${cx},${cy - hs}`;
  return <polygon points={pts} fill={color} />;
}

function LineLegend({ cfg, dy }: any) {
  const wdt = cfg.x1 - cfg.x0;
  return (
    <>
      {NUCS.map((n, i) => (
        <React.Fragment key={n.key}>
          <svg
            width={wdt}
            height={14}
            style={{ position: "absolute", left: cfg.x0, top: cfg.ys[i] + dy - 7, overflow: "visible" }}
          >
            <line x1={0} y1={7} x2={wdt} y2={7} stroke={n.color} strokeWidth={1.5} />
            <MarkerShape style={n.style} rot={n.rot} color={n.color} cx={wdt / 2} cy={7} s={cfg.m} />
          </svg>
          <Txt x={cfg.tx} y={cfg.ys[i] + dy} anchor="start" size={11}>{n.label}</Txt>
        </React.Fragment>
      ))}
    </>
  );
}

function BarLegend({ dy }: { dy: number }) {
  return (
    <>
      {STRAIN_ITALIC.map((it, i) => {
        const left = i < 4;
        const row = left ? i : i - 4;
        const sx = left ? 724 : 875;
        const y = 61.5 + row * 14.3 + dy;
        return (
          <React.Fragment key={i}>
            <div
              style={{
                position: "absolute",
                left: sx,
                top: y - 3.5,
                width: 7,
                height: 7,
                boxSizing: "border-box",
                border: "1px solid #000",
                background: BAR_COLORS[i],
              }}
            />
            <Txt x={sx + 10} y={y} anchor="start" size={10.5}>
              <i>{it}</i>{STRAIN_SUFFIX[i]}
            </Txt>
          </React.Fragment>
        );
      })}
    </>
  );
}

function Half({ dy, header, data }: { dy: number; header: string; data: Record<string, Nuc> }) {
  return (
    <>
      {LAYOUT.map((p) => (
        <Profile
          key={p.id}
          box={p.box}
          dy={dy}
          x={p.wide ? POS_WIDE : POS_NARROW}
          d={data[p.id]}
          yr={p.yr}
          yTicks={p.mito ? Y_TICKS_MITO : Y_TICKS_NUC}
          yLabels={p.mito ? Y_LABELS_MITO : Y_LABELS_NUC}
          xTicks={p.wide ? X_TICKS_WIDE : X_TICKS_NARROW}
          big={p.wide}
        />
      ))}
      <RatioBars dy={dy} />

      <Txt x={508} y={8 + dy} bold size={12}>{header}</Txt>

      {LAYOUT.map((p) => (
        <React.Fragment key={"t" + p.id}>
          <Txt x={p.letter[0]} y={p.letter[1] + dy} anchor="start" bold size={30}>{p.id}</Txt>
          {p.title.lines.map((ln: any, li: number) => (
            <Txt key={li} x={p.title.x} y={p.title.ys[li] + dy} size={12}>{ln}</Txt>
          ))}
          <Txt x={p.xt[0]} y={p.xt[1] + dy} size={12}>Position (nt)</Txt>
          {p.yt && (p.yt[2] ? (
            <Txt x={p.yt[0]} y={p.yt[1] + dy} size={12} rotate lh={13}>Normalized<br />frequency</Txt>
          ) : (
            <Txt x={p.yt[0]} y={p.yt[1] + dy} size={12} rotate>Normalized frequency</Txt>
          ))}
          {p.legend && <LineLegend cfg={p.legend} dy={dy} />}
        </React.Fragment>
      ))}

      {/* panel e */}
      <Txt x={720} y={36 + dy} anchor="start" bold size={30}>e</Txt>
      <BarLegend dy={dy} />
      <Txt x={733} y={287 + dy} size={12} rotate>Ratio of leading to lagging strand counts of rNMP reads</Txt>
      <Txt x={758} y={470 + dy} size={12}>Maximum</Txt>
      <Txt x={758} y={485 + dy} size={12}>
        <i>T</i><sub style={{ fontSize: 7, verticalAlign: "-2px" }}>rep</sub> (min)
      </Txt>
      <Txt x={758} y={502 + dy} size={12}>Flanking</Txt>
      <Txt x={758} y={516 + dy} size={12}>size (kb)</Txt>
    </>
  );
}

export default function App() {
  return (
    <div
      style={{
        position: "absolute",
        left: 0,
        top: 0,
        width: 1015,
        height: 1500,
        background: "#fff",
        overflow: "hidden",
      }}
    >
      <Half dy={0} header="Original" data={ORIGINAL} />
      <Half dy={768} header="Corrected" data={CORRECTED} />
    </div>
  );
}
